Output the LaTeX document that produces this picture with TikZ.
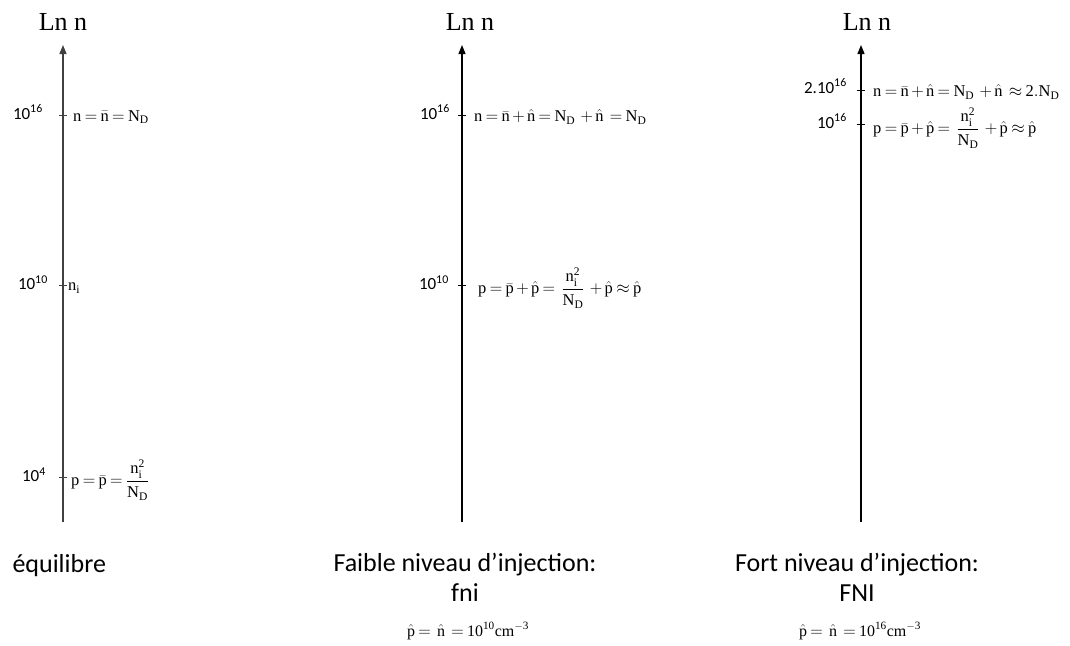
\documentclass[tikz,border=0pt]{standalone}
\usepackage{amsmath, amssymb}
\usepackage{fontspec}
\setmainfont{Liberation Serif}
\setmathrm{Liberation Serif}
\newfontfamily\calib{Carlito}
\newcommand{\serree}{\thickmuskip=3.5mu\medmuskip=2.5mu}
\usepackage{tikz}
\usetikzlibrary{arrows.meta, positioning}

\begin{document}
\begin{tikzpicture}[
  x=1pt, y=-1pt,
  axe/.style={line width=1.3pt, -{Triangle[width=7pt, length=9pt]}},
  tick/.style={line width=1pt},
  val/.style={font=\calib\fontsize{17}{19}\selectfont, anchor=east, inner sep=0pt},
  eq/.style={font=\fontsize{16.5}{18}\selectfont\serree, anchor=west, inner sep=0pt},
  titre/.style={font=\fontsize{26}{30}\selectfont},
  regime/.style={font=\calib\fontsize{26}{30}\selectfont, align=center},
  inj/.style={font=\fontsize{16}{18}\selectfont\serree}
]
  \useasboundingbox (0,0) rectangle (1070,645);

  % Equilibre
  \coordinate (b1) at (63,522);
  \coordinate (t1) at (63,45);
  \draw[axe, black!75] (b1) -- (t1);
  \node[titre] (ln1) at (63,22) {Ln n};
  \draw[tick, black!75] (59,115) -- (67,115);
  \draw[tick, black!75] (59,285) -- (67,285);
  \draw[tick, black!75] (59,477) -- (67,477);
  \node[val] (v1a) at (43,112) {10\textsuperscript{16}};
  \node[val] (v1b) at (48,283) {10\textsuperscript{10}};
  \node[val] (v1c) at (46,475) {10\textsuperscript{4}};
  \node[eq] (e1a) at (73,117) {$\mathrm{n}=\bar{\mathrm{n}}=\mathrm{N_D}$};
  \node[eq] (e1b) at (68,288) {$\mathrm{n_i}$};
  \node[eq] (e1c) at (71,480) {$\mathrm{p}=\bar{\mathrm{p}}=\dfrac{\mathrm{n_i^2}}{\mathrm{N_D}}$};
  \node[regime, anchor=west] (r1) at (9,566) {équilibre};

  % Faible niveau d'injection
  \coordinate (b2) at (462,522);
  \coordinate (t2) at (462,45);
  \draw[axe] (b2) -- (t2);
  \node[titre] (ln2) at (470,22) {Ln n};
  \draw[tick] (458,115) -- (466,115);
  \draw[tick] (458,285) -- (466,285);
  \node[val] (v2a) at (450,112) {10\textsuperscript{16}};
  \node[val] (v2b) at (449,283) {10\textsuperscript{10}};
  \node[eq] (e2a) at (474,117) {$\mathrm{n}=\bar{\mathrm{n}}+\hat{\mathrm{n}}=\mathrm{N_D}\,+\hat{\mathrm{n}}\,=\mathrm{N_D}$};
  \node[eq] (e2b) at (478,288) {$\mathrm{p}=\bar{\mathrm{p}}+\hat{\mathrm{p}}=\,\dfrac{\mathrm{n_i^2}}{\mathrm{N_D}}\,+\hat{\mathrm{p}}\approx\hat{\mathrm{p}}$};
  \node[regime] (r2) at (465,577) {Faible niveau d’injection:\\fni};
  \node[inj] (i2) at (468,631) {$\hat{\mathrm{p}}=\,\hat{\mathrm{n}}\,=\mathrm{10}^{\mathrm{10}}\mathrm{cm}^{-\mathrm{3}}$};

  % Fort niveau d'injection
  \coordinate (b3) at (861,522);
  \coordinate (t3) at (861,45);
  \draw[axe] (b3) -- (t3);
  \node[titre] (ln3) at (867,22) {Ln n};
  \draw[tick] (857,90) -- (865,90);
  \draw[tick] (857,124) -- (865,124);
  \node[val] (v3a) at (847,86) {2.10\textsuperscript{16}};
  \node[val] (v3b) at (847,121) {10\textsuperscript{16}};
  \node[eq] (e3a) at (873,92) {$\mathrm{n}=\bar{\mathrm{n}}+\hat{\mathrm{n}}=\mathrm{N_D}\,+\hat{\mathrm{n}}\,\approx \mathrm{2.N_D}$};
  \node[eq] (e3b) at (873,128) {$\mathrm{p}=\bar{\mathrm{p}}+\hat{\mathrm{p}}=\,\dfrac{\mathrm{n_i^2}}{\mathrm{N_D}}\,+\hat{\mathrm{p}}\approx\hat{\mathrm{p}}$};
  \node[regime] (r3) at (857,577) {Fort niveau d’injection:\\FNI};
  \node[inj] (i3) at (860,631) {$\hat{\mathrm{p}}=\,\hat{\mathrm{n}}\,=\mathrm{10}^{\mathrm{16}}\mathrm{cm}^{-\mathrm{3}}$};

\end{tikzpicture}
\end{document}
